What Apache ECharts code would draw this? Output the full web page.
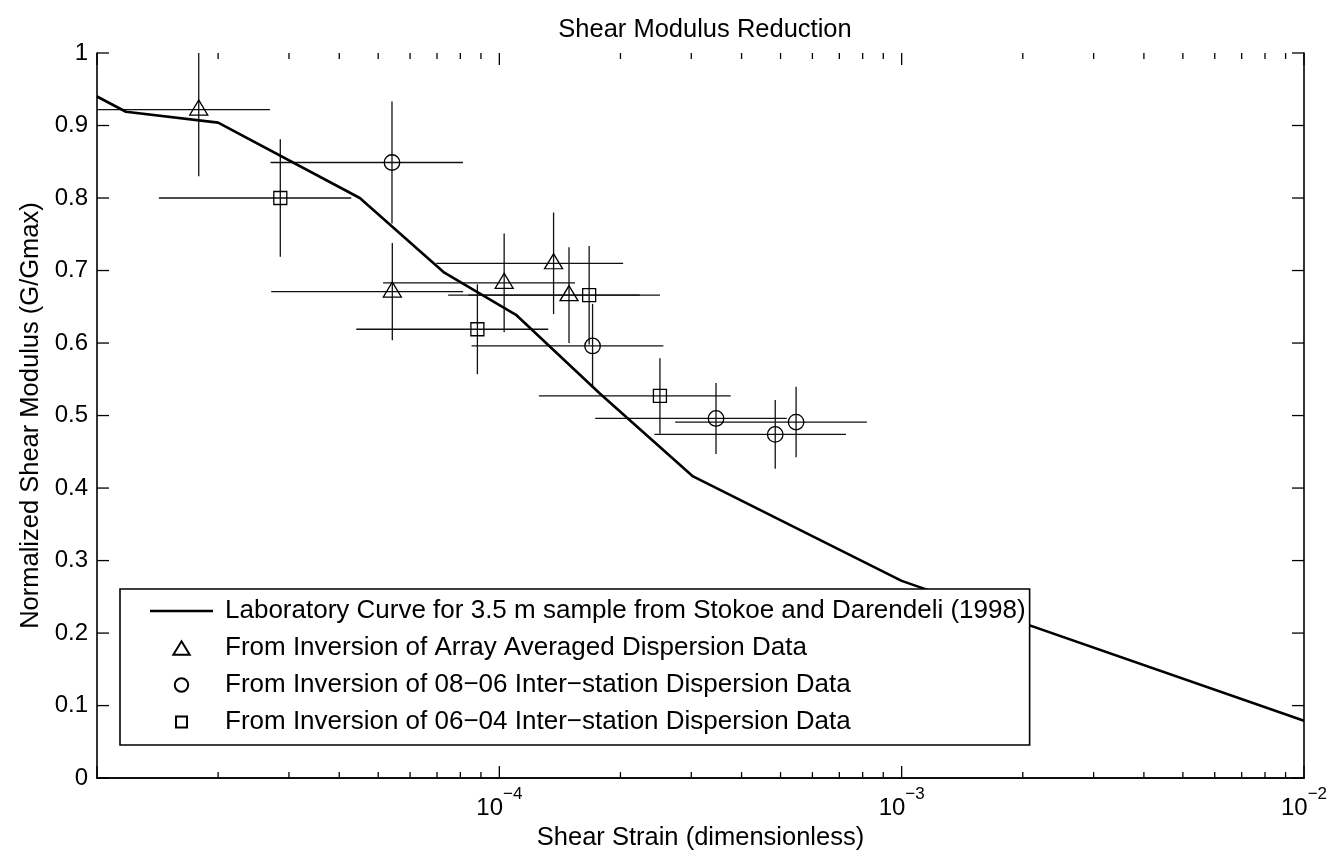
<!DOCTYPE html>
<html>
<head>
<meta charset="utf-8">
<title>Shear Modulus Reduction</title>
<script src="https://cdn.jsdelivr.net/npm/echarts@6/dist/echarts.min.js"></script>
<style>
  html, body { margin: 0; padding: 0; background: #fff; }
  #chart { width: 1332px; height: 856px; }
</style>
</head>
<body>
<div id="chart"></div>
<script>
const FONT = '"Liberation Sans", Arial, Helvetica, sans-serif';

// Axis ranges
const strainMin = 1e-5;
const strainMax = 1e-2;
const ratioMin = 0;
const ratioMax = 1;

// Laboratory modulus reduction curve
const labStrain = [1.0e-5, 1.18e-5, 2.0e-5, 4.5e-5, 7.3e-5, 1.10e-4, 1.78e-4, 3.03e-4, 1.0e-3, 1.0e-2];
const labRatio  = [0.940, 0.919, 0.904, 0.800, 0.697, 0.639, 0.530, 0.416, 0.272, 0.079];

// Array averaged dispersion inversion (triangles)
const arrStrain    = [1.79e-5, 5.42e-5, 1.028e-4, 1.364e-4, 1.49e-4];
const arrRatio     = [0.922, 0.671, 0.683, 0.710, 0.666];
const arrStrainErr = [0.90e-5, 2.71e-5, 5.14e-5, 6.67e-5, 7.44e-5];
const arrRatioErr  = [0.092, 0.067, 0.068, 0.070, 0.066];

// 08-06 inter-station inversion (circles)
const s0806Strain    = [5.41e-5, 1.705e-4, 3.456e-4, 4.85e-4, 5.465e-4];
const s0806Ratio     = [0.849, 0.596, 0.496, 0.474, 0.491];
const s0806StrainErr = [2.71e-5, 8.52e-5, 1.725e-4, 2.42e-4, 2.73e-4];
const s0806RatioErr  = [0.084, 0.058, 0.049, 0.0475, 0.0486];

// 06-04 inter-station inversion (squares)
const s0604Strain    = [2.855e-5, 8.82e-5, 1.672e-4, 2.507e-4];
const s0604Ratio     = [0.800, 0.619, 0.666, 0.527];
const s0604StrainErr = [1.43e-5, 4.41e-5, 8.35e-5, 1.253e-4];
const s0604RatioErr  = [0.081, 0.062, 0.068, 0.052];

// Tick positions
const strainMajorTicks = [1e-5, 1e-4, 1e-3, 1e-2];
const strainMinorTicks = [
  2e-5, 3e-5, 4e-5, 5e-5, 6e-5, 7e-5, 8e-5, 9e-5,
  2e-4, 3e-4, 4e-4, 5e-4, 6e-4, 7e-4, 8e-4, 9e-4,
  2e-3, 3e-3, 4e-3, 5e-3, 6e-3, 7e-3, 8e-3, 9e-3
];
const ratioTicks = [0, 0.1, 0.2, 0.3, 0.4, 0.5, 0.6, 0.7, 0.8, 0.9, 1];
const yTickStep = 0.1;

const labName   = 'Laboratory Curve for 3.5 m sample from Stokoe and Darendeli (1998)';
const arrName   = 'From Inversion of Array Averaged Dispersion Data';
const s0806Name = 'From Inversion of 08\u221206 Inter\u2212station Dispersion Data';
const s0604Name = 'From Inversion of 06\u221204 Inter\u2212station Dispersion Data';

const INK = '#000';
const BAR_INK = '#111';
const MAJOR_LEN = 12;
const MINOR_LEN = 6;

function rows(xs, ys, dxs, dys) {
  return xs.map((x, i) => [x, ys[i], dxs[i], dys[i]]);
}

// Cross-shaped error bars, clamped to the plotting range
function errorBars(data) {
  return {
    type: 'custom',
    silent: true,
    z: 2,
    data: data,
    encode: { x: 0, y: 1 },
    renderItem: function (params, api) {
      const x = api.value(0), y = api.value(1), ex = api.value(2), ey = api.value(3);
      const l = api.coord([Math.max(x - ex, strainMin), y]);
      const r = api.coord([Math.min(x + ex, strainMax), y]);
      const t = api.coord([x, Math.min(y + ey, ratioMax)]);
      const b = api.coord([x, Math.max(y - ey, ratioMin)]);
      const st = { stroke: BAR_INK, lineWidth: 1.3 };
      return {
        type: 'group',
        children: [
          { type: 'line', shape: { x1: l[0], y1: l[1], x2: r[0], y2: r[1] }, style: st },
          { type: 'line', shape: { x1: t[0], y1: t[1], x2: b[0], y2: b[1] }, style: st }
        ]
      };
    }
  };
}

// Inward tick marks on both edges of the box
function strainTicks(values, len) {
  return {
    type: 'custom', silent: true, z: 6,
    data: values.map(v => [v, ratioMin]),
    encode: { x: 0, y: 1 },
    renderItem: function (params, api) {
      const v = api.value(0);
      const b = api.coord([v, ratioMin]);
      const t = api.coord([v, ratioMax]);
      const st = { stroke: INK, lineWidth: 1.3 };
      return {
        type: 'group',
        children: [
          { type: 'line', shape: { x1: b[0], y1: b[1], x2: b[0], y2: b[1] - len }, style: st },
          { type: 'line', shape: { x1: t[0], y1: t[1], x2: t[0], y2: t[1] + len }, style: st }
        ]
      };
    }
  };
}

function ratioTickMarks(values, len) {
  return {
    type: 'custom', silent: true, z: 6,
    data: values.map(v => [strainMin, v]),
    encode: { x: 0, y: 1 },
    renderItem: function (params, api) {
      const v = api.value(1);
      const l = api.coord([strainMin, v]);
      const r = api.coord([strainMax, v]);
      const st = { stroke: INK, lineWidth: 1.3 };
      return {
        type: 'group',
        children: [
          { type: 'line', shape: { x1: l[0], y1: l[1], x2: l[0] + len, y2: l[1] }, style: st },
          { type: 'line', shape: { x1: r[0], y1: r[1], x2: r[0] - len, y2: r[1] }, style: st }
        ]
      };
    }
  };
}

function markers(name, xs, ys, symbol, size, offset) {
  return {
    type: 'scatter',
    name: name,
    z: 3,
    symbol: symbol,
    symbolSize: size,
    symbolOffset: offset || [0, 0],
    itemStyle: { color: 'rgba(0,0,0,0)', borderColor: INK, borderWidth: 1.3, opacity: 1 },
    emphasis: { disabled: true },
    data: xs.map((x, i) => [x, ys[i]])
  };
}

const superscriptRich = {
  b: { fontFamily: FONT, fontSize: 24, color: INK, lineHeight: 34, verticalAlign: 'bottom' },
  s: { fontFamily: FONT, fontSize: 17, color: INK, verticalAlign: 'top' }
};

function decadeLabel(v) {
  const e = Math.round(Math.log10(v));
  if (e === -5) return '';
  return '{b|10}{s|\u2212' + Math.abs(e) + '}';
}

function boxAxisLine() {
  return { show: true, lineStyle: { color: INK, width: 1.6 } };
}

const chart = echarts.init(document.getElementById('chart'), null, { renderer: 'canvas' });

chart.setOption({
  backgroundColor: '#fff',
  animation: false,
  title: {
    text: 'Shear Modulus Reduction',
    left: 700,
    textAlign: 'center',
    top: 12,
    textStyle: { fontFamily: FONT, fontSize: 25.5, fontWeight: 'normal', color: INK }
  },
  grid: { left: 97, right: 28, top: 53, bottom: 75, containLabel: false },
  legend: {
    orient: 'vertical',
    left: 120,
    top: 589,
    padding: [9, 4, 10, 30],
    itemGap: 11,
    itemWidth: 63,
    itemHeight: 15,
    backgroundColor: '#fff',
    borderColor: INK,
    borderWidth: 1.6,
    borderRadius: 0,
    z: 20,
    selectedMode: false,
    textStyle: { fontFamily: FONT, fontSize: 26, color: INK, padding: [0, 0, 0, 7] },
    data: [
      { name: labName, icon: 'path://M0,0 L63,0 L63,2.6 L0,2.6 Z' },
      { name: arrName, icon: 'path://M0,0 M18,15 M9,0.8 L17.2,14.2 L0.8,14.2 Z' },
      { name: s0806Name, icon: 'path://M0,0 M15,15 M7.5,0.8 A6.7,6.7 0 1 1 7.49,0.8 Z' },
      { name: s0604Name, icon: 'path://M0,0 M15,15 M2,2 L13,2 L13,13 L2,13 Z' }
    ]
  },
  xAxis: [
    {
      type: 'log', logBase: 10, min: strainMin, max: strainMax, position: 'bottom',
      axisLine: boxAxisLine(), axisTick: { show: false }, splitLine: { show: false },
      axisLabel: { formatter: decadeLabel, rich: superscriptRich, margin: 8, showMinLabel: true, showMaxLabel: true },
      name: 'Shear Strain (dimensionless)', nameLocation: 'middle', nameGap: 44,
      nameTextStyle: { fontFamily: FONT, fontSize: 25.5, color: INK }
    },
    {
      type: 'log', logBase: 10, min: strainMin, max: strainMax, position: 'top',
      axisLine: boxAxisLine(), axisTick: { show: false }, splitLine: { show: false }, axisLabel: { show: false }
    }
  ],
  yAxis: [
    {
      type: 'value', min: ratioMin, max: ratioMax, interval: yTickStep, position: 'left',
      axisLine: boxAxisLine(), axisTick: { show: false }, splitLine: { show: false },
      axisLabel: { fontFamily: FONT, fontSize: 24, color: INK, margin: 9 },
      name: 'Normalized Shear Modulus (G/Gmax)', nameLocation: 'middle', nameGap: 47,
      nameTextStyle: { fontFamily: FONT, fontSize: 25.5, color: INK }
    },
    {
      type: 'value', min: ratioMin, max: ratioMax, interval: yTickStep, position: 'right',
      axisLine: boxAxisLine(), axisTick: { show: false }, splitLine: { show: false }, axisLabel: { show: false }
    }
  ],
  series: [
    strainTicks(strainMajorTicks, MAJOR_LEN),
    strainTicks(strainMinorTicks, MINOR_LEN),
    ratioTickMarks(ratioTicks, MAJOR_LEN),
    errorBars(rows(arrStrain, arrRatio, arrStrainErr, arrRatioErr)),
    errorBars(rows(s0806Strain, s0806Ratio, s0806StrainErr, s0806RatioErr)),
    errorBars(rows(s0604Strain, s0604Ratio, s0604StrainErr, s0604RatioErr)),
    {
      type: 'line',
      name: labName,
      z: 4,
      data: labStrain.map((x, i) => [x, labRatio[i]]),
      symbol: 'none',
      showSymbol: false,
      lineStyle: { color: INK, width: 2.6 },
      itemStyle: { color: INK },
      emphasis: { disabled: true }
    },
    markers(arrName, arrStrain, arrRatio, 'triangle', [18, 15], [0, -2]),
    markers(s0806Name, s0806Strain, s0806Ratio, 'circle', 15.5),
    markers(s0604Name, s0604Strain, s0604Ratio, 'rect', 13)
  ]
});
</script>
</body>
</html>
